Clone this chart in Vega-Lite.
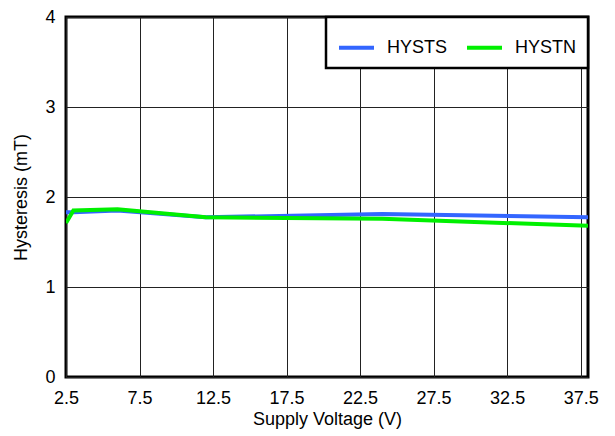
{
  "$schema": "https://vega.github.io/schema/vega-lite/v6.json",
  "autosize": "none",
  "width": 522,
  "height": 360,
  "padding": {"left": 66, "top": 17, "right": 27, "bottom": 59},
  "background": "white",
  "config": {
    "font": "Liberation Sans",
    "view": {"stroke": "black", "strokeWidth": 3},
    "axis": {
      "labelFont": "Liberation Sans",
      "titleFont": "Liberation Sans",
      "labelFontSize": 18,
      "titleFontSize": 18,
      "titleFontWeight": "normal",
      "labelColor": "black",
      "titleColor": "black",
      "ticks": false,
      "domain": false,
      "grid": true,
      "gridColor": "#222222",
      "gridWidth": 1,
      "gridOpacity": 1
    }
  },
  "data": {
    "values": [
      {"v": 2.5, "h": 1.83, "s": "HYSTS"},
      {"v": 3, "h": 1.83, "s": "HYSTS"},
      {"v": 6, "h": 1.85, "s": "HYSTS"},
      {"v": 12, "h": 1.775, "s": "HYSTS"},
      {"v": 24, "h": 1.81, "s": "HYSTS"},
      {"v": 38, "h": 1.775, "s": "HYSTS"},
      {"v": 2.5, "h": 1.71, "s": "HYSTN"},
      {"v": 3, "h": 1.85, "s": "HYSTN"},
      {"v": 6, "h": 1.865, "s": "HYSTN"},
      {"v": 12, "h": 1.775, "s": "HYSTN"},
      {"v": 24, "h": 1.757, "s": "HYSTN"},
      {"v": 38, "h": 1.68, "s": "HYSTN"}
    ]
  },
  "mark": {"type": "line", "strokeWidth": 4, "clip": true},
  "encoding": {
    "x": {
      "field": "v",
      "type": "quantitative",
      "title": "Supply Voltage (V)",
      "scale": {"domain": [2.5, 38], "nice": false, "zero": false},
      "axis": {"values": [2.5, 7.5, 12.5, 17.5, 22.5, 27.5, 32.5, 37.5], "format": ".1f", "labelPadding": 12, "titlePadding": 3, "labelFlush": false}
    },
    "y": {
      "field": "h",
      "type": "quantitative",
      "title": "Hysteresis (mT)",
      "scale": {"domain": [0, 4], "nice": false},
      "axis": {"values": [0, 1, 2, 3, 4], "labelPadding": 11, "titlePadding": 14}
    },
    "color": {
      "field": "s",
      "type": "nominal",
      "scale": {"domain": ["HYSTS", "HYSTN"], "range": ["#3366ff", "#00f000"]},
      "legend": {
        "title": null,
        "orient": "top-right",
        "offset": 0,
        "direction": "horizontal",
        "symbolType": "stroke",
        "symbolSize": 1225,
        "symbolStrokeWidth": 4,
        "labelFontSize": 18,
        "labelFont": "Liberation Sans",
        "labelColor": "black",
        "labelOffset": 11,
        "columnPadding": 11,
        "padding": 11,
        "strokeColor": "black",
        "fillColor": "white",
        "encode": {"legend": {"update": {"strokeWidth": {"value": 2.5}}}}
      }
    }
  }
}
